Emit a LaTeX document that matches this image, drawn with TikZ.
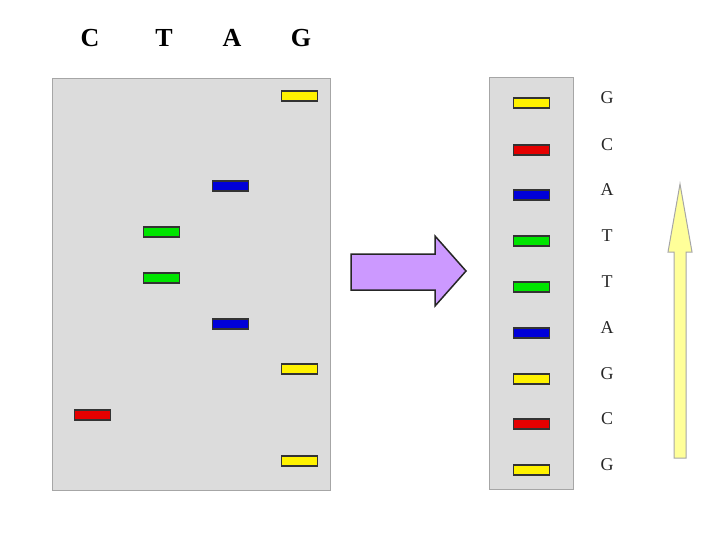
\documentclass[tikz,border=0pt]{standalone}
\usepackage{fontspec}
\setmainfont{Liberation Serif}
\begin{document}
\begin{tikzpicture}[x=1pt,y=-1pt,
  gel/.style={draw=gray!70,fill=gelgray,line width=1pt},
  band/.style={draw=black!80,line width=1.2pt,minimum width=36pt,minimum height=10pt,inner sep=0pt},
  yb/.style={band,fill=yellow},
  rb/.style={band,fill=red!90!black},
  bb/.style={band,fill=blue!85!black},
  gb/.style={band,fill=green!90!black},
  hdr/.style={font=\fontsize{26}{26}\selectfont\bfseries},
  lab/.style={font=\fontsize{18}{18}\selectfont,text=black!85}]
\definecolor{gelgray}{HTML}{DCDCDC}
\definecolor{lav}{HTML}{CC99FF}
\definecolor{lyel}{HTML}{FFFF99}
\useasboundingbox (0,0) rectangle (720,540);
% headers
\node[hdr] (hC) at (90,38) {C};
\node[hdr] (hT) at (164,38) {T};
\node[hdr] (hA) at (232,38) {A};
\node[hdr] (hG) at (301,38) {G};
% left gel
\node[gel,minimum width=278pt,minimum height=412pt,anchor=north west] (gelL) at (52,78) {};
\node[yb] (l1) at (299.5,96) {};
\node[bb] (l2) at (230.5,186) {};
\node[gb] (l3) at (161.5,232) {};
\node[gb] (l4) at (161.5,278) {};
\node[bb] (l5) at (230.5,324) {};
\node[yb] (l6) at (299.5,369) {};
\node[rb] (l7) at (92.5,415) {};
\node[yb] (l8) at (299.5,461) {};
% right gel
\node[gel,minimum width=84pt,minimum height=412pt,anchor=north west] (gelR) at (489,77) {};
\foreach \y/\s/\t [count=\i] in {103/yb/G,150/rb/C,195/bb/A,241/gb/T,287/gb/T,333/bb/A,379/yb/G,424/rb/C,470/yb/G}{
  \node[\s] (r\i) at (531.5,\y) {};
  \node[lab] (t\i) at (607,\y-5) {\t};
}
% purple arrow
\draw[fill=lav,draw=black!85,line width=1.5pt,line join=miter]
  (351,254) -- (435,254) -- (435,236) -- (466,271) -- (435,306) -- (435,290) -- (351,290) -- cycle;
% yellow arrow
\draw[fill=lyel,draw=gray!70,line width=1pt]
  (674,458) -- (674,252) -- (668,252) -- (680,184) -- (692,252) -- (686,252) -- (686,458) -- cycle;
\end{tikzpicture}
\end{document}
